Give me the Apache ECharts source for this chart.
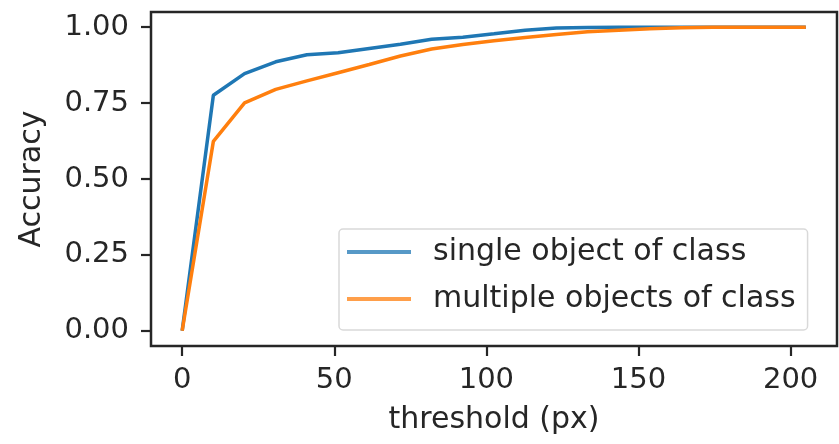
<!DOCTYPE html>
<html>
<head>
<meta charset="UTF-8">
<title>Accuracy vs threshold</title>
<script src="https://cdn.jsdelivr.net/npm/echarts/dist/echarts.min.js"></script>
<style>
  html, body { margin: 0; padding: 0; background: #fff; }
  #chart { width: 839px; height: 444px; }
</style>
</head>
<body>
<div id="chart"></div>
<script>
  // threshold values (px)
  const thresholds = [0, 10.25, 20.5, 30.75, 41, 51.25, 61.5, 71.75, 82, 92.25, 102.5,
                      112.75, 123, 133.25, 143.5, 153.75, 164, 174.25, 184.5, 194.75, 205];
  const singleAcc = [0, 0.776, 0.847, 0.886, 0.909, 0.916, 0.93, 0.944, 0.96, 0.967, 0.978,
                     0.99, 0.997, 0.999, 1.0, 1.0, 1.0, 1.0, 1.0, 1.0, 1.0];
  const multipleAcc = [0, 0.624, 0.751, 0.795, 0.823, 0.85, 0.877, 0.905, 0.928, 0.943, 0.955,
                       0.966, 0.976, 0.985, 0.99, 0.995, 0.998, 1.0, 1.0, 1.0, 1.0];
  const xTicks = [0, 50, 100, 150, 200];
  const yTicks = [0, 0.25, 0.5, 0.75, 1.0];
  const seriesNames = ["single object of class", "multiple objects of class"];

  const font = "DejaVu Sans";
  const ink = "#262626";

  const chart = echarts.init(document.getElementById("chart"));
  chart.setOption({
    animation: false,
    backgroundColor: "#fff",
    grid: {
      left: 151, top: 12, right: 2, bottom: 98,
      show: true, borderColor: ink, borderWidth: 2.5, backgroundColor: "transparent"
    },
    legend: {
      orient: "vertical",
      left: 339, top: 229,
      padding: [5, 12, 13, 8],
      itemGap: 11,
      itemWidth: 64, itemHeight: 4,
      icon: "rect",
      borderColor: "#d9d9d9", borderWidth: 1.5, borderRadius: 4,
      textStyle: { fontFamily: font, fontSize: 30, color: ink, lineHeight: 36, padding: [0, 0, 0, 17] },
      data: [
        { name: seriesNames[0], itemStyle: { color: "rgba(31,119,180,0.75)" } },
        { name: seriesNames[1], itemStyle: { color: "rgba(255,127,14,0.75)" } }
      ]
    },
    xAxis: {
      type: "value",
      min: -10.25, max: 215.25,
      name: "threshold (px)",
      nameLocation: "middle",
      nameGap: 59,
      nameTextStyle: { fontFamily: font, fontSize: 30, color: ink },
      axisLine: { show: false, onZero: false },
      splitLine: { show: false },
      axisTick: { show: true, length: 10, lineStyle: { color: ink, width: 2.2 }, customValues: xTicks },
      axisLabel: { fontFamily: font, fontSize: 29, color: ink, margin: 20, customValues: xTicks }
    },
    yAxis: {
      type: "value",
      min: -0.05, max: 1.05,
      name: "Accuracy",
      nameLocation: "middle",
      nameGap: 104,
      nameTextStyle: { fontFamily: font, fontSize: 30, color: ink },
      axisLine: { show: false, onZero: false },
      splitLine: { show: false },
      axisTick: { show: true, length: 10, lineStyle: { color: ink, width: 2.2 }, customValues: yTicks },
      axisLabel: {
        fontFamily: font, fontSize: 29, color: ink, margin: 22, customValues: yTicks,
        formatter: v => v.toFixed(2)
      }
    },
    series: [
      {
        name: seriesNames[0], type: "line", showSymbol: false,
        lineStyle: { color: "#1f77b4", width: 3.5 }, itemStyle: { color: "#1f77b4" },
        data: thresholds.map((x, i) => [x, singleAcc[i]])
      },
      {
        name: seriesNames[1], type: "line", showSymbol: false,
        lineStyle: { color: "#ff7f0e", width: 3.5 }, itemStyle: { color: "#ff7f0e" },
        data: thresholds.map((x, i) => [x, multipleAcc[i]])
      }
    ]
  });
</script>
</body>
</html>
